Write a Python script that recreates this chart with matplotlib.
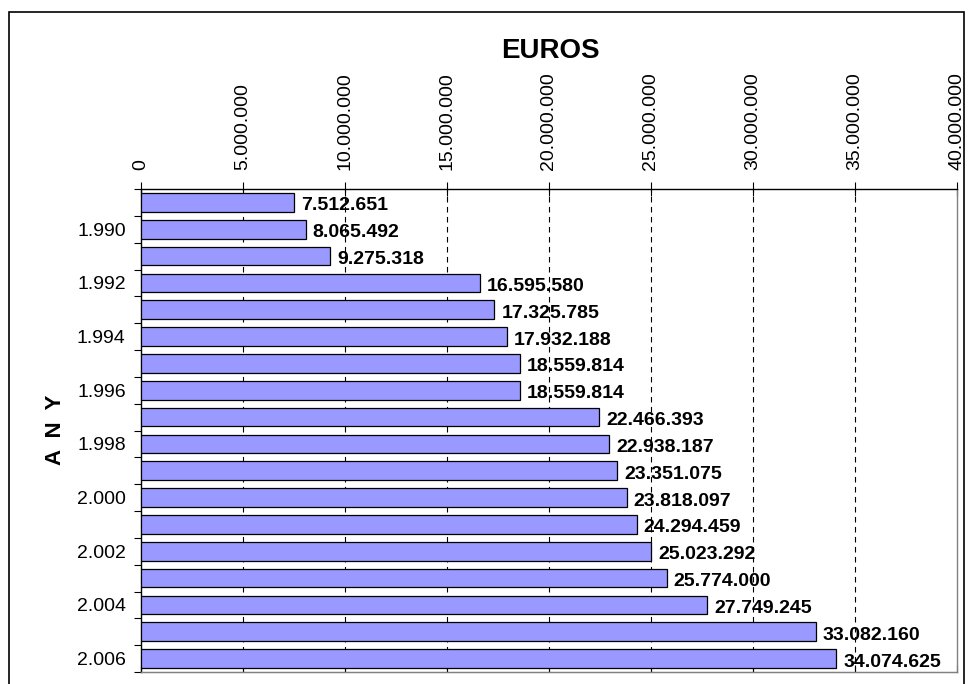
import matplotlib.pyplot as plt
import matplotlib.patches as mpatches
import numpy as np

# data
years = list(range(1989, 2007))
euros = [7512651, 8065492, 9275318, 16595580, 17325785, 17932188,
         18559814, 18559814, 22466393, 22938187, 23351075, 23818097,
         24294459, 25023292, 25774000, 27749245, 33082160, 34074625]
x_ticks = [0, 5000000, 10000000, 15000000, 20000000,
           25000000, 30000000, 35000000, 40000000]


def dot_fmt(v):
    return f"{v:,}".replace(",", ".")


plt.rcParams["font.family"] = ["Liberation Sans", "DejaVu Sans"]

fig = plt.figure(figsize=(9.72, 6.84), dpi=100)
ax = fig.add_axes([141 / 972, 12 / 684, 816 / 972, 483 / 684])

# outer chart frame (cut off at the bottom like the reference)
fig.patches.append(mpatches.Rectangle((9 / 972, -0.05), 955 / 972, 1 - 12 / 684 + 0.05,
                                      transform=fig.transFigure, fill=False,
                                      edgecolor="black", linewidth=1.2))

pos = np.arange(len(years))
ax.barh(pos, euros, height=0.7, color="#9999FF", edgecolor="black", linewidth=0.9, zorder=3)

for p, v in zip(pos, euros):
    ax.annotate(dot_fmt(v), (v, p), xytext=(5, -2.5), textcoords="offset points",
                ha="left", va="center", fontsize=14, fontweight="bold", zorder=4)

ax.set_xlim(0, 40000000)
ax.set_ylim(len(years) - 0.5, -0.5)

ax.xaxis.tick_top()
ax.set_xticks(x_ticks)
ax.set_xticklabels([dot_fmt(t) for t in x_ticks], rotation=90, fontsize=14)
ax.tick_params(axis="x", which="major", direction="inout", length=10, width=0.8, pad=9,
               bottom=False, top=True, labelbottom=False, labeltop=True)

# short inward ticks along the bottom edge
sec = ax.secondary_xaxis("bottom")
sec.set_xticks(x_ticks)
sec.set_xticklabels([])
sec.tick_params(direction="in", length=5, width=0.8, color="black")
sec.spines["bottom"].set_color("#808080")

# y ticks: marks on category boundaries, labels on every other year
ax.set_yticks(np.arange(-0.5, len(years), 1.0))
ax.set_yticklabels([])
ax.tick_params(axis="y", which="major", direction="out", length=5, width=0.8)
lab_pos = [p for p, y in zip(pos, years) if y % 2 == 0]
ax.set_yticks(lab_pos, minor=True)
ax.set_yticklabels([dot_fmt(y) for y in years if y % 2 == 0], minor=True, fontsize=14)
ax.tick_params(axis="y", which="minor", length=0, pad=11)

for t in x_ticks[1:-1]:
    ax.axvline(t, color="black", linewidth=0.8, linestyle=(0, (5, 4)), zorder=1)

ax.spines["left"].set_color("black")
ax.spines["top"].set_color("black")
ax.spines["right"].set_color("#808080")
ax.spines["bottom"].set_color("#808080")
for s in ax.spines.values():
    s.set_linewidth(1.0)

fig.text(550 / 972, 1 - 51 / 684, "EUROS", ha="center", va="center",
         fontsize=20, fontweight="bold")
fig.text(55 / 972, 1 - 430 / 684, "A  N  Y", ha="center", va="center",
         rotation=90, fontsize=16, fontweight="bold")

fig.savefig("out.png", dpi=100)
